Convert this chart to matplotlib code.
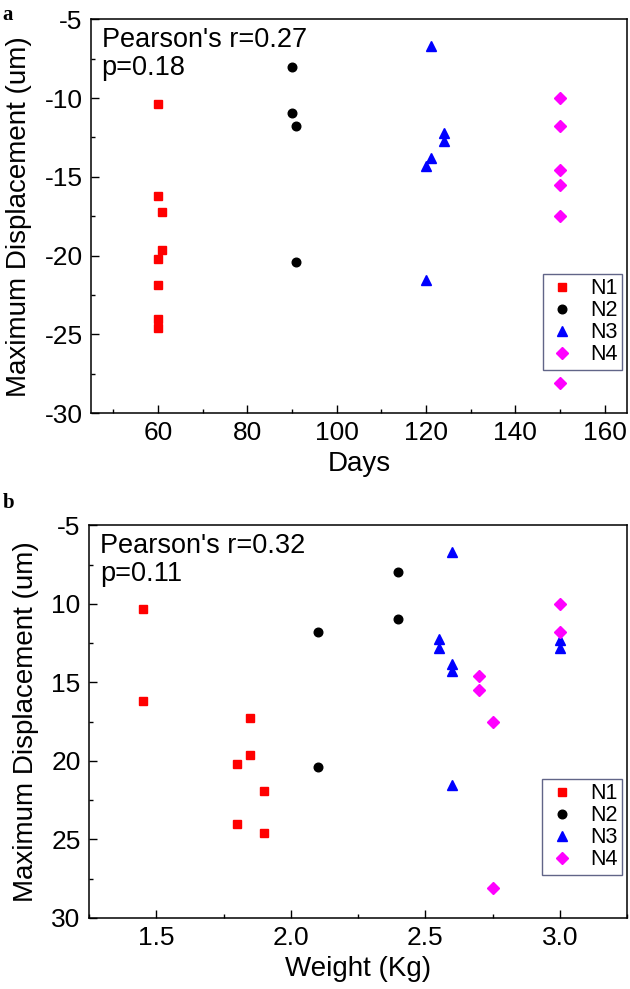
import matplotlib
matplotlib.use("Agg")
import matplotlib.pyplot as plt
from matplotlib.ticker import MultipleLocator

plt.rcParams['font.family'] = ['Liberation Sans', 'DejaVu Sans']
plt.rcParams['axes.unicode_minus'] = False

# panel a: days vs displacement
days_n1 = [60, 60, 61, 61, 60, 60, 60, 60]
disp_n1 = [-10.4, -16.2, -17.25, -19.65, -20.2, -21.9, -24.0, -24.6]
days_n2 = [90, 90, 91, 91]
disp_n2 = [-8.0, -10.95, -11.75, -20.4]
days_n3 = [121, 124, 124, 121, 120, 120]
disp_n3 = [-6.7, -12.2, -12.75, -13.8, -14.3, -21.55]
days_n4 = [150, 150, 150, 150, 150, 150]
disp_n4 = [-10.0, -11.75, -14.55, -15.5, -17.5, -28.1]

# panel b: weight vs displacement
wt_n1 = [1.45, 1.45, 1.85, 1.85, 1.80, 1.90, 1.80, 1.90]
dp_n1 = [10.35, 16.2, 17.25, 19.65, 20.2, 21.9, 24.0, 24.6]
wt_n2 = [2.40, 2.40, 2.10, 2.10]
dp_n2 = [8.0, 10.95, 11.8, 20.4]
wt_n3 = [2.60, 2.55, 2.55, 2.60, 2.60, 2.60, 3.00, 3.00]
dp_n3 = [6.7, 12.25, 12.8, 13.8, 14.3, 21.55, 12.3, 12.8]
wt_n4 = [3.00, 3.00, 2.70, 2.70, 2.75, 2.75]
dp_n4 = [10.0, 11.8, 14.6, 15.5, 17.5, 28.1]

yticks_b = [5, 10, 15, 20, 25, 30]
yticklabels_b = ['-5', '10', '15', '20', '25', '30']

fig = plt.figure(figsize=(6.30, 9.89), dpi=100)
ax1 = fig.add_axes([0.1444, 0.5824, 0.851, 0.398])
ax2 = fig.add_axes([0.1413, 0.0718, 0.854, 0.397])

styles = [('s', 'red', 5.8, 'N1'), ('o', 'black', 6.2, 'N2'),
          ('^', 'blue', 7.0, 'N3'), ('D', 'magenta', 5.8, 'N4')]

set_a = [(days_n1, disp_n1), (days_n2, disp_n2), (days_n3, disp_n3), (days_n4, disp_n4)]
set_b = [(wt_n1, dp_n1), (wt_n2, dp_n2), (wt_n3, dp_n3), (wt_n4, dp_n4)]

for ax, data in [(ax1, set_a), (ax2, set_b)]:
    for (x, y), (m, c, ms, lab) in zip(data, styles):
        ax.plot(x, y, linestyle='none', marker=m, color=c, markersize=ms, label=lab)
    for s in ['top', 'right', 'left', 'bottom']:
        ax.spines[s].set_linewidth(1.1)
    ax.tick_params(which='both', direction='in', top=False, right=False, labelsize=19)
    ax.tick_params(which='major', length=6, width=1.0, pad=6)
    ax.tick_params(which='minor', length=3, width=1.0)
    leg = ax.legend(loc='lower right', bbox_to_anchor=(0.99, 0.11), fontsize=15.5,
                    frameon=True, fancybox=False, handletextpad=0.6,
                    borderpad=0.2, labelspacing=0.05, handlelength=1.4,
                    borderaxespad=0)
    leg.get_frame().set_edgecolor('#3a3f6a')
    leg.get_frame().set_linewidth(1.0)

ax1.set_xlim(45, 165)
ax1.set_ylim(-30, -5)
ax1.xaxis.set_major_locator(MultipleLocator(20))
ax1.xaxis.set_minor_locator(MultipleLocator(10))
ax1.yaxis.set_major_locator(MultipleLocator(5))
ax1.yaxis.set_minor_locator(MultipleLocator(2.5))
ax1.set_xlabel('Days', fontsize=20, labelpad=4)
ax1.set_ylabel('Maximum Displacement (um)', fontsize=20, labelpad=9)
ax1.text(0.02, 0.98, "Pearson's r=0.27\np=0.18", transform=ax1.transAxes,
         fontsize=19.5, va='top', ha='left', linespacing=1.1)

ax2.set_xlim(1.25, 3.25)
ax2.set_ylim(30, 5)
ax2.set_yticks(yticks_b)
ax2.set_yticklabels(yticklabels_b)
ax2.xaxis.set_major_locator(MultipleLocator(0.5))
ax2.xaxis.set_minor_locator(MultipleLocator(0.25))
ax2.yaxis.set_minor_locator(MultipleLocator(2.5))
ax2.set_xlabel('Weight (Kg)', fontsize=20, labelpad=4)
ax2.set_ylabel('Maximum Displacement (um)', fontsize=20, labelpad=9)
ax2.text(0.02, 0.98, "Pearson's r=0.32\np=0.11", transform=ax2.transAxes,
         fontsize=19.5, va='top', ha='left', linespacing=1.1)

fig.text(0.004, 0.995, 'a', fontsize=15, fontweight='bold', family='Liberation Serif', va='top')
fig.text(0.004, 0.502, 'b', fontsize=15, fontweight='bold', family='Liberation Serif', va='top')

fig.savefig('out.png', dpi=100)
